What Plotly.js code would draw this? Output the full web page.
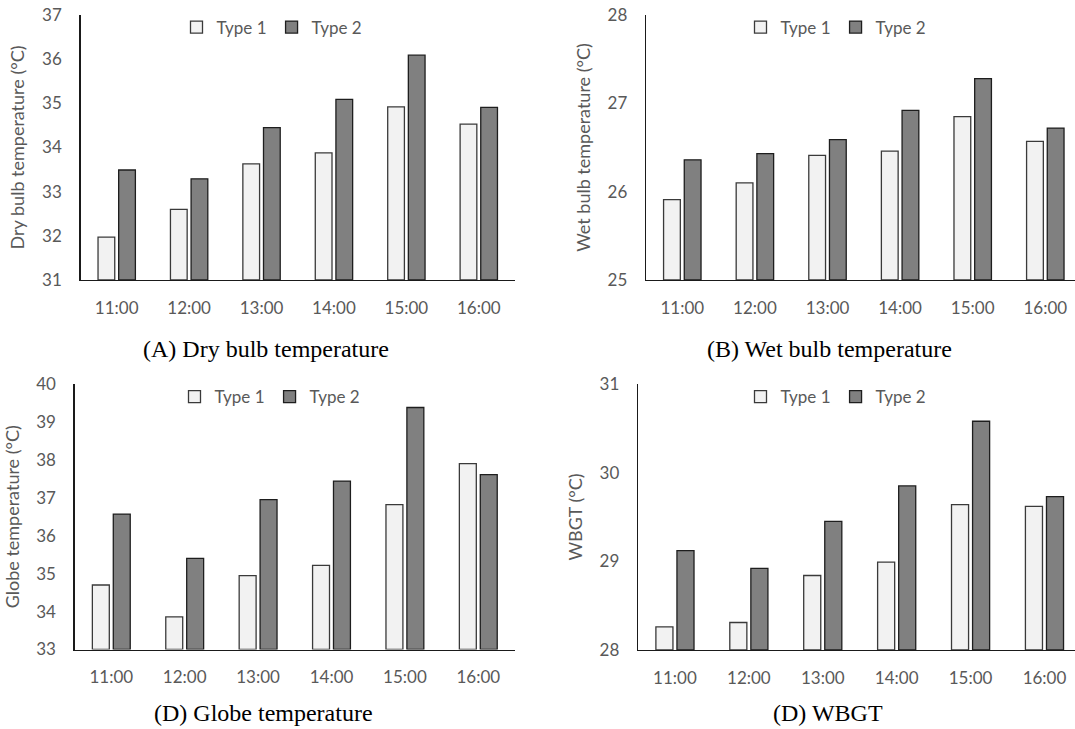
<!DOCTYPE html>
<html><head><meta charset="utf-8">
<script src="https://cdn.plot.ly/plotly-3.0.1.min.js"></script>
<style>html,body{margin:0;padding:0;background:#fff}#chart{width:1075px;height:729px}</style>
</head><body><div id="chart"></div>
<script>
const times = ['11:00','12:00','13:00','14:00','15:00','16:00'];
const seriesNames = ['Type 1','Type 2'];
const dryType1 = [31.97,32.60,33.63,33.88,34.92,34.53];
const dryType2 = [33.49,33.29,34.45,35.09,36.09,34.91];
const wetType1 = [25.91,26.10,26.41,26.46,26.85,26.57];
const wetType2 = [26.36,26.43,26.59,26.92,27.28,26.72];
const globeType1 = [34.70,33.86,34.95,35.22,36.82,37.90];
const globeType2 = [36.57,35.40,36.95,37.44,39.38,37.61];
const wbgtType1 = [28.26,28.31,28.84,28.99,29.64,29.62];
const wbgtType2 = [29.12,28.92,29.45,29.85,30.58,29.73];
const yTitles = ['Dry bulb temperature (°C)','Wet bulb temperature (°C)','Globe temperature (°C)','WBGT (°C)'];
const captions = ['(A) Dry bulb temperature','(B) Wet bulb temperature','(D) Globe temperature','(D) WBGT'];

const W = 1075, H = 729;
const panels = [
  {t1: dryType1, t2: dryType2, yr:[31,37], dtick:1, px:[80.5,515], py:[15,280], xr:[-0.5,5.5], leg:[272,27.5], cap:[266,349]},
  {t1: wetType1, t2: wetType2, yr:[25,28], dtick:1, px:[646,1075], py:[15,280], xr:[-0.5,5.409], leg:[836,27.5], cap:[829,349]},
  {t1: globeType1, t2: globeType2, yr:[33,40], dtick:1, px:[74.6,515], py:[384,649.5], xr:[-0.5,5.5], leg:[270,397], cap:[263,713]},
  {t1: wbgtType1, t2: wbgtType2, yr:[28,31], dtick:1, px:[638,1075], py:[384,650], xr:[-0.5,5.413], leg:[836,397], cap:[828,713]}
];

const gray = '#595959';
const tickFont = {family:'Lato, sans-serif', size:17, color:gray};
const data = [];
const layout = {
  width: W, height: H,
  margin:{l:0,r:0,t:0,b:0},
  paper_bgcolor:'#fff', plot_bgcolor:'#fff',
  font:{family:'Lato, sans-serif', color:gray},
  barmode:'group', bargap:0.43, bargroupgap:0.19,
  showlegend:true,
  annotations:[]
};
const fills = ['#f2f2f2','#808080'];
const lines = ['#3a3a3a','#1e1e1e'];

panels.forEach((p,i)=>{
  const n = i+1;
  const xa = n===1?'x':'x'+n, ya = n===1?'y':'y'+n;
  const legName = n===1?'legend':'legend'+n;
  [p.t1,p.t2].forEach((vals,k)=>{
    data.push({type:'bar', x:times, y:vals.map(v=>v - p.yr[0]), name:seriesNames[k], xaxis:xa, yaxis:ya,
      legend:legName, base: p.yr[0],
      marker:{color:fills[k], line:{color:lines[k], width:1.3}}, hoverinfo:'skip'});
  });
  layout[n===1?'xaxis':'xaxis'+n] = {
    domain:[p.px[0]/W, p.px[1]/W], anchor: ya, type:'category', range:p.xr,
    showline:true, linecolor:'#1a1a1a', linewidth:1.3, ticks:'', showgrid:false, zeroline:false,
    tickfont:tickFont, ticklabelstandoff:12, fixedrange:true
  };
  layout[n===1?'yaxis':'yaxis'+n] = {
    domain:[1-p.py[1]/H, 1-p.py[0]/H], anchor: xa, range:p.yr, dtick:p.dtick, tick0:p.yr[0],
    showline:true, linecolor:'#1a1a1a', linewidth:1.3, ticks:'', showgrid:false, zeroline:false,
    tickfont:tickFont, ticklabelstandoff:14, fixedrange:true,
    title:{text:yTitles[i], font:{family:'Lato, sans-serif', size:18, color:gray}, standoff:12}
  };
  layout[legName] = {
    orientation:'h', x:p.leg[0]/W, y:1-p.leg[1]/H, xanchor:'center', yanchor:'middle',
    font:{family:'Lato, sans-serif', size:17, color:gray}, bgcolor:'rgba(0,0,0,0)',
    traceorder:'normal', itemclick:false, itemdoubleclick:false
  };
  layout.annotations.push({xref:'paper', yref:'paper', x:p.cap[0]/W, y:1-p.cap[1]/H,
    xanchor:'center', yanchor:'middle', showarrow:false, text:captions[i],
    font:{family:'Liberation Serif, Times New Roman, serif', size:24, color:'#000'}});
});

Plotly.newPlot('chart', data, layout, {displayModeBar:false, staticPlot:true});
</script>
</body></html>
